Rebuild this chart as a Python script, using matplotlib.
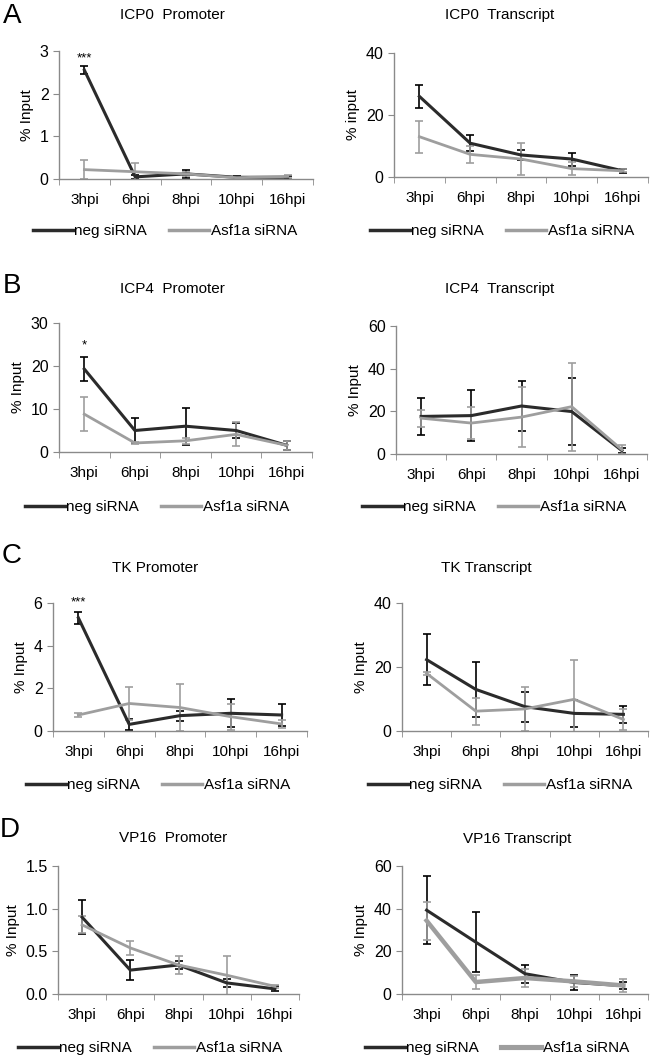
import matplotlib
matplotlib.use('Agg')
import matplotlib.pyplot as plt
from matplotlib.lines import Line2D
from matplotlib.ticker import FormatStrFormatter

plt.rcParams['font.family'] = ['Liberation Sans', 'DejaVu Sans']

hpi = ['3hpi', '6hpi', '8hpi', '10hpi', '16hpi']

# A - ICP0
icp0_prom_neg = [2.55, 0.05, 0.12, 0.04, 0.04]
icp0_prom_neg_err = [0.09, 0.05, 0.10, 0.02, 0.03]
icp0_prom_asf = [0.22, 0.17, 0.12, 0.03, 0.06]
icp0_prom_asf_err = [0.22, 0.20, 0.05, 0.02, 0.03]

icp0_tx_neg = [26.0, 10.9, 7.1, 5.8, 2.0]
icp0_tx_neg_err = [3.7, 2.6, 1.6, 2.1, 0.7]
icp0_tx_asf = [13.0, 7.3, 5.8, 2.7, 2.0]
icp0_tx_asf_err = [5.2, 2.8, 5.3, 2.0, 0.5]

# B - ICP4
icp4_prom_neg = [19.3, 5.0, 6.0, 5.0, 1.55]
icp4_prom_neg_err = [2.9, 3.0, 4.3, 1.7, 1.1]
icp4_prom_asf = [8.8, 2.1, 2.6, 4.1, 1.55]
icp4_prom_asf_err = [4.0, 0.3, 0.7, 2.8, 1.0]

icp4_tx_neg = [17.6, 18.0, 22.5, 19.9, 1.6]
icp4_tx_neg_err = [8.6, 12.0, 11.8, 15.6, 1.0]
icp4_tx_asf = [16.8, 14.5, 17.3, 22.2, 2.0]
icp4_tx_asf_err = [4.0, 7.3, 14.0, 20.6, 2.0]

# C - TK
tk_prom_neg = [5.3, 0.31, 0.72, 0.83, 0.75]
tk_prom_neg_err = [0.3, 0.25, 0.23, 0.65, 0.5]
tk_prom_asf = [0.75, 1.29, 1.10, 0.67, 0.33]
tk_prom_asf_err = [0.1, 0.78, 1.1, 0.6, 0.2]

tk_tx_neg = [22.3, 13.0, 7.6, 5.5, 5.2]
tk_tx_neg_err = [8.0, 8.6, 4.7, 4.2, 2.7]
tk_tx_asf = [18.0, 6.2, 6.9, 9.9, 3.6]
tk_tx_asf_err = [0.5, 4.2, 6.9, 12.4, 3.3]

# D - VP16
vp16_prom_neg = [0.90, 0.28, 0.34, 0.13, 0.06]
vp16_prom_neg_err = [0.20, 0.12, 0.05, 0.05, 0.03]
vp16_prom_asf = [0.81, 0.54, 0.34, 0.22, 0.09]
vp16_prom_asf_err = [0.10, 0.08, 0.10, 0.23, 0.02]

vp16_tx_neg = [39.3, 24.3, 9.5, 5.4, 3.9]
vp16_tx_neg_err = [16.0, 14.0, 4.2, 3.3, 1.5]
vp16_tx_asf = [34.4, 5.6, 7.5, 5.9, 4.0]
vp16_tx_asf_err = [8.9, 3.3, 4.0, 2.5, 3.0]

dark = '#2b2b2b'
light = '#9e9e9e'
spine = '#8a8a8a'

W, H = 650, 1057
fig = plt.figure(figsize=(6.5, 10.57), dpi=100)


def px_axes(x0, x1, ytop, ybot):
    return fig.add_axes([x0 / W, 1 - ybot / H, (x1 - x0) / W, (ybot - ytop) / H])


def panel(box, neg, neg_err, asf, asf_err, ymax, yticks, ylabel, title, tpos, lpos,
          fmt=None, star=None, asf_lw=2.0):
    ax = px_axes(*box)
    x = list(range(len(hpi)))
    ax.errorbar(x, neg, yerr=neg_err, color=dark, lw=2.2, elinewidth=1.2,
                capsize=3, capthick=1.2, ecolor='black')
    ax.errorbar(x, asf, yerr=asf_err, color=light, lw=asf_lw, elinewidth=1.2,
                capsize=3, capthick=1.2, ecolor=light)
    ax.set_xlim(-0.5, len(hpi) - 0.5)
    ax.set_ylim(0, ymax)
    ax.set_yticks(yticks)
    if fmt:
        ax.yaxis.set_major_formatter(FormatStrFormatter(fmt))
    ax.set_xticks(x)
    ax.set_xticklabels(hpi)
    ax.set_xticks([i - 0.5 for i in range(len(hpi) + 1)], minor=True)
    ax.tick_params(axis='x', which='major', length=0, pad=10, labelsize=11)
    ax.tick_params(axis='x', which='minor', length=4, color=spine, direction='out')
    ax.tick_params(axis='y', length=4, color=spine, labelsize=11.5)
    for s in ['top', 'right']:
        ax.spines[s].set_visible(False)
    for s in ['left', 'bottom']:
        ax.spines[s].set_color(spine)
        ax.spines[s].set_linewidth(1.0)
    ax.set_ylabel(ylabel, fontsize=11)
    if star:
        ax.text(0, star[1], star[0], ha='center', va='bottom', fontsize=9.5)
    fig.text(tpos[0] / W, 1 - tpos[1] / H, title, ha='center', va='center', fontsize=11)
    handles = [Line2D([], [], color=dark, lw=2.5),
               Line2D([], [], color=light, lw=asf_lw + 0.5)]
    fig.legend(handles, ['neg siRNA', 'Asf1a siRNA'], loc='center',
               bbox_to_anchor=(lpos[0] / W, 1 - lpos[1] / H), ncol=2, frameon=False,
               fontsize=11, handlelength=2.6, handletextpad=0.1, columnspacing=1.45,
               borderpad=0, borderaxespad=0)
    return ax


panel((59, 313, 51, 179), icp0_prom_neg, icp0_prom_neg_err, icp0_prom_asf, icp0_prom_asf_err,
      3, [0, 1, 2, 3], '% Input', 'ICP0  Promoter', (172, 15), (165, 231), star=('***', 2.68))
panel((394, 648, 53, 177), icp0_tx_neg, icp0_tx_neg_err, icp0_tx_asf, icp0_tx_asf_err,
      40, [0, 20, 40], '% input', 'ICP0  Transcript', (500, 15), (502, 231))

panel((59, 312, 323, 452), icp4_prom_neg, icp4_prom_neg_err, icp4_prom_asf, icp4_prom_asf_err,
      30, [0, 10, 20, 30], '% Input', 'ICP4  Promoter', (172, 289), (157, 507), star=('*', 23.5))
panel((396, 647, 326, 454), icp4_tx_neg, icp4_tx_neg_err, icp4_tx_asf, icp4_tx_asf_err,
      60, [0, 20, 40, 60], '% Input', 'ICP4  Transcript', (500, 289), (494, 507))

panel((53, 307, 603, 731), tk_prom_neg, tk_prom_neg_err, tk_prom_asf, tk_prom_asf_err,
      6, [0, 2, 4, 6], '% Input', 'TK Promoter', (155, 568), (158, 785), star=('***', 5.75))
panel((402, 648, 603, 731), tk_tx_neg, tk_tx_neg_err, tk_tx_asf, tk_tx_asf_err,
      40, [0, 20, 40], '% Input', 'TK Transcript', (486, 568), (500, 785))

panel((58, 299, 866, 994), vp16_prom_neg, vp16_prom_neg_err, vp16_prom_asf, vp16_prom_asf_err,
      1.5, [0, 0.5, 1.0, 1.5], '% Input', 'VP16  Promoter', (173, 838), (150, 1048), fmt='%.1f')
panel((402, 648, 866, 994), vp16_tx_neg, vp16_tx_neg_err, vp16_tx_asf, vp16_tx_asf_err,
      60, [0, 20, 40, 60], '% Input', 'VP16 Transcript', (517, 839), (497, 1048), asf_lw=3.2)

for letter, (lx, ly) in zip('ABCD', [(12, 16), (12, 286), (12, 556), (10, 830)]):
    fig.text(lx / W, 1 - ly / H, letter, ha='center', va='center', fontsize=20)

fig.savefig('out.png', dpi=100)
